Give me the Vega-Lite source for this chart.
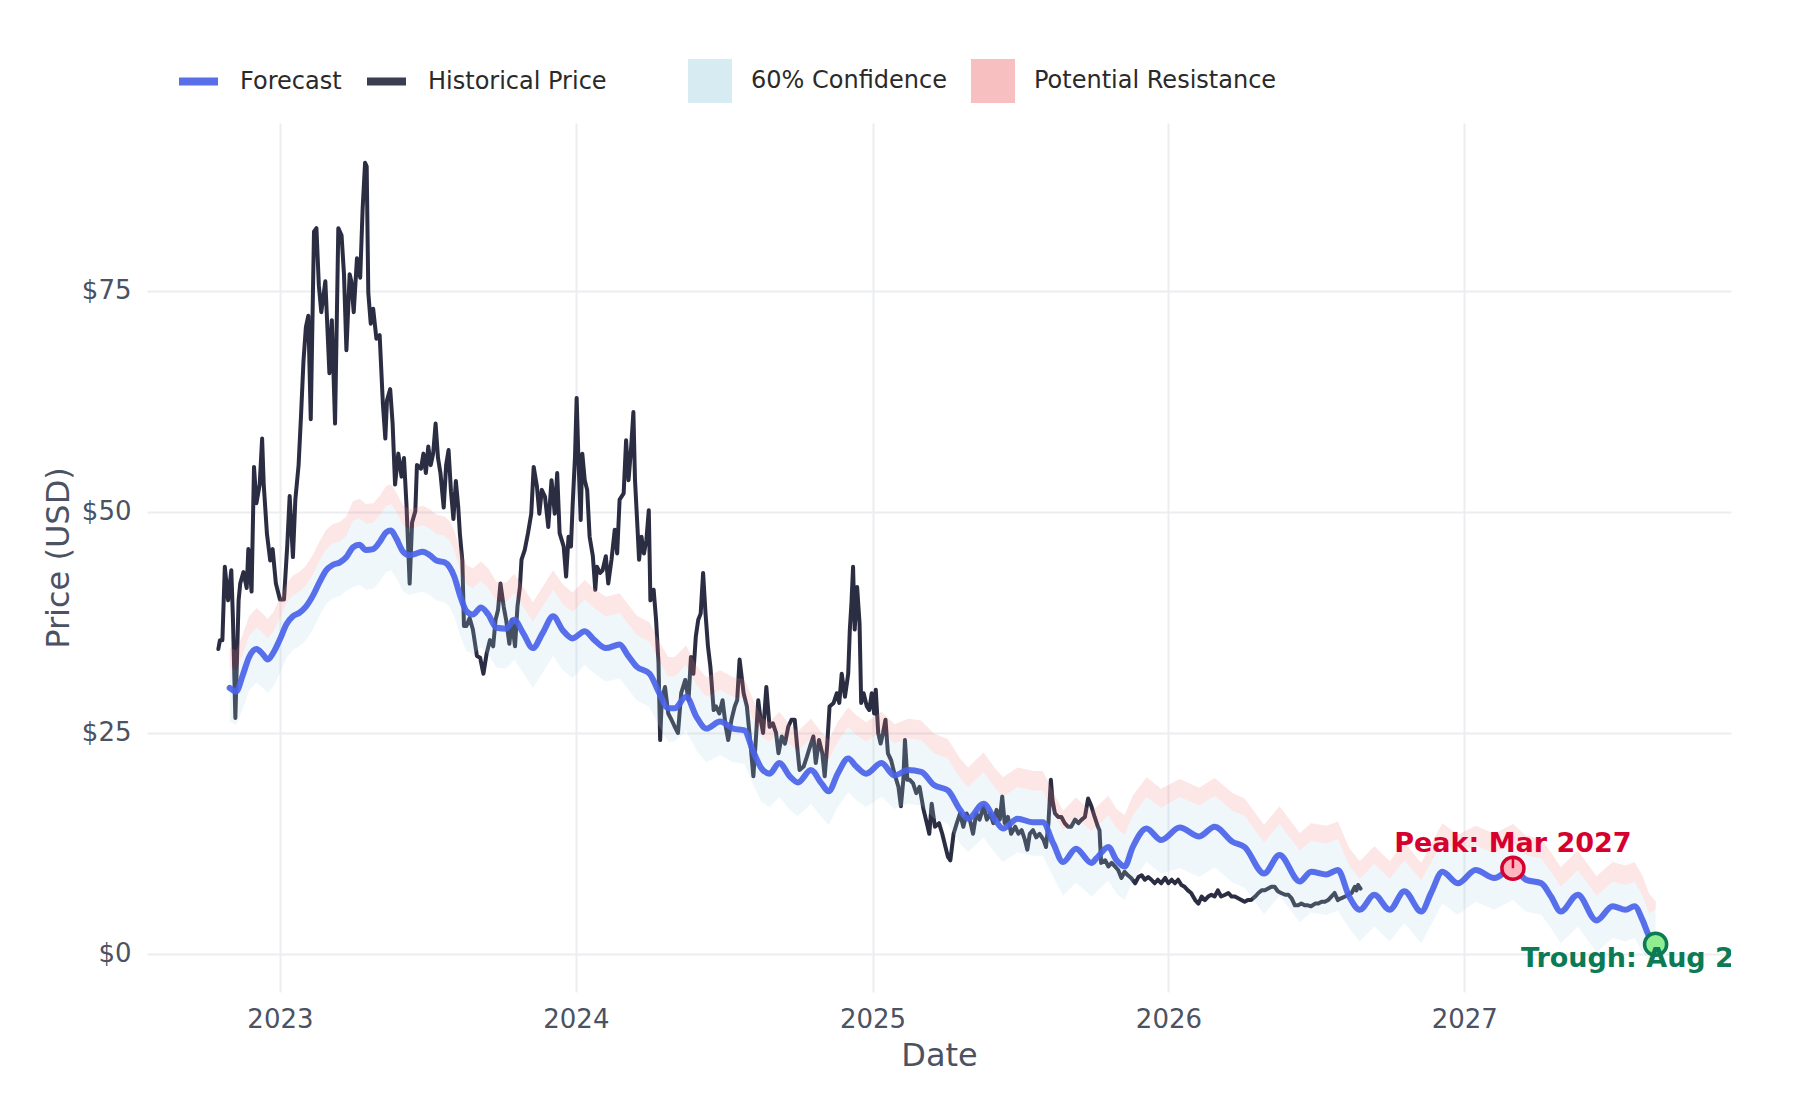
{
  "$schema": "https://vega.github.io/schema/vega-lite/v6.json",
  "width": 1584,
  "height": 869,
  "autosize": {"type": "none"},
  "padding": {"left": 147, "top": 123, "right": 69, "bottom": 108},
  "background": "white",
  "config": {
    "view": {"stroke": null},
    "font": "DejaVu Sans",
    "axis": {
      "labelFont": "DejaVu Sans", "titleFont": "DejaVu Sans",
      "labelFontSize": 26, "titleFontSize": 32, "titleFontWeight": "normal",
      "labelColor": "#4a5263", "titleColor": "#4a5263",
      "gridColor": "#ebedf0", "gridWidth": 2,
      "domain": false, "ticks": false, "tickSize": 0
    },
    "axisX": {"labelPadding": 14, "titleY": 73, "titleBaseline": "alphabetic"},
    "axisY": {"labelPadding": 16, "titleX": -79, "titleY": 434.5, "titleBaseline": "alphabetic", "titleAngle": -90, "titleAlign": "center"}
  },
  "datasets": {
    "hist": [
      {"date": "2022-10-17", "price": 34.5}, {"date": "2022-10-19", "price": 35.5}, {"date": "2022-10-22", "price": 35.5},
      {"date": "2022-10-25", "price": 43.8}, {"date": "2022-10-29", "price": 40.0}, {"date": "2022-11-02", "price": 43.4},
      {"date": "2022-11-04", "price": 38.0}, {"date": "2022-11-07", "price": 26.7}, {"date": "2022-11-11", "price": 40.0},
      {"date": "2022-11-13", "price": 41.9}, {"date": "2022-11-17", "price": 43.2}, {"date": "2022-11-21", "price": 41.4},
      {"date": "2022-11-23", "price": 45.8}, {"date": "2022-11-27", "price": 41.0}, {"date": "2022-11-30", "price": 55.1},
      {"date": "2022-12-03", "price": 51.0}, {"date": "2022-12-07", "price": 53.1}, {"date": "2022-12-10", "price": 58.3},
      {"date": "2022-12-12", "price": 53.1}, {"date": "2022-12-16", "price": 47.5}, {"date": "2022-12-20", "price": 44.5},
      {"date": "2022-12-23", "price": 45.8}, {"date": "2022-12-27", "price": 41.9}, {"date": "2023-01-01", "price": 40.1},
      {"date": "2023-01-06", "price": 40.1}, {"date": "2023-01-10", "price": 46.2}, {"date": "2023-01-13", "price": 51.8},
      {"date": "2023-01-17", "price": 44.9}, {"date": "2023-01-20", "price": 51.4}, {"date": "2023-01-24", "price": 55.3},
      {"date": "2023-01-27", "price": 60.9}, {"date": "2023-01-30", "price": 67.0}, {"date": "2023-02-02", "price": 70.9},
      {"date": "2023-02-05", "price": 72.2}, {"date": "2023-02-08", "price": 60.5}, {"date": "2023-02-12", "price": 81.7},
      {"date": "2023-02-15", "price": 82.1}, {"date": "2023-02-18", "price": 75.6}, {"date": "2023-02-21", "price": 72.6},
      {"date": "2023-02-26", "price": 76.1}, {"date": "2023-03-03", "price": 65.7}, {"date": "2023-03-06", "price": 71.7},
      {"date": "2023-03-10", "price": 60.0}, {"date": "2023-03-14", "price": 82.1}, {"date": "2023-03-18", "price": 81.3},
      {"date": "2023-03-21", "price": 76.9}, {"date": "2023-03-24", "price": 68.3}, {"date": "2023-03-28", "price": 76.9},
      {"date": "2023-03-30", "price": 76.1}, {"date": "2023-04-02", "price": 72.6}, {"date": "2023-04-06", "price": 78.7},
      {"date": "2023-04-10", "price": 76.5}, {"date": "2023-04-13", "price": 84.3}, {"date": "2023-04-16", "price": 89.5},
      {"date": "2023-04-18", "price": 89.1}, {"date": "2023-04-20", "price": 74.8}, {"date": "2023-04-23", "price": 71.3},
      {"date": "2023-04-26", "price": 73.0}, {"date": "2023-04-30", "price": 69.6}, {"date": "2023-05-04", "price": 70.0},
      {"date": "2023-05-08", "price": 62.2}, {"date": "2023-05-11", "price": 58.3}, {"date": "2023-05-13", "price": 62.6},
      {"date": "2023-05-17", "price": 63.9}, {"date": "2023-05-20", "price": 60.0}, {"date": "2023-05-23", "price": 53.1},
      {"date": "2023-05-27", "price": 56.6}, {"date": "2023-05-31", "price": 54.0}, {"date": "2023-06-03", "price": 56.1},
      {"date": "2023-06-06", "price": 51.0}, {"date": "2023-06-10", "price": 41.9}, {"date": "2023-06-13", "price": 48.8},
      {"date": "2023-06-17", "price": 50.1}, {"date": "2023-06-19", "price": 55.3}, {"date": "2023-06-24", "price": 54.9},
      {"date": "2023-06-27", "price": 56.6}, {"date": "2023-06-30", "price": 54.4}, {"date": "2023-07-03", "price": 57.4},
      {"date": "2023-07-06", "price": 55.3}, {"date": "2023-07-09", "price": 56.6}, {"date": "2023-07-12", "price": 60.0},
      {"date": "2023-07-15", "price": 56.1}, {"date": "2023-07-18", "price": 54.4}, {"date": "2023-07-22", "price": 50.5},
      {"date": "2023-07-25", "price": 55.3}, {"date": "2023-07-28", "price": 57.0}, {"date": "2023-07-31", "price": 52.3},
      {"date": "2023-08-03", "price": 49.2}, {"date": "2023-08-06", "price": 53.5}, {"date": "2023-08-09", "price": 50.5},
      {"date": "2023-08-11", "price": 47.5}, {"date": "2023-08-14", "price": 44.5}, {"date": "2023-08-16", "price": 37.1},
      {"date": "2023-08-19", "price": 37.1}, {"date": "2023-08-23", "price": 38.0}, {"date": "2023-08-27", "price": 36.7},
      {"date": "2023-09-01", "price": 33.7}, {"date": "2023-09-05", "price": 33.5}, {"date": "2023-09-09", "price": 31.7},
      {"date": "2023-09-13", "price": 34.0}, {"date": "2023-09-17", "price": 35.5}, {"date": "2023-09-21", "price": 34.8},
      {"date": "2023-09-24", "price": 37.8}, {"date": "2023-09-27", "price": 38.9}, {"date": "2023-09-30", "price": 41.9},
      {"date": "2023-10-04", "price": 39.3}, {"date": "2023-10-07", "price": 37.8}, {"date": "2023-10-11", "price": 35.1},
      {"date": "2023-10-14", "price": 37.8}, {"date": "2023-10-18", "price": 34.8}, {"date": "2023-10-21", "price": 39.3},
      {"date": "2023-10-24", "price": 41.5}, {"date": "2023-10-26", "price": 44.6}, {"date": "2023-10-30", "price": 45.7},
      {"date": "2023-11-03", "price": 47.6}, {"date": "2023-11-07", "price": 49.8}, {"date": "2023-11-10", "price": 55.1},
      {"date": "2023-11-14", "price": 52.9}, {"date": "2023-11-17", "price": 49.8}, {"date": "2023-11-20", "price": 52.5},
      {"date": "2023-11-24", "price": 51.7}, {"date": "2023-11-28", "price": 48.3}, {"date": "2023-12-02", "price": 53.6},
      {"date": "2023-12-06", "price": 49.8}, {"date": "2023-12-09", "price": 54.4}, {"date": "2023-12-12", "price": 47.6},
      {"date": "2023-12-17", "price": 46.1}, {"date": "2023-12-20", "price": 42.7}, {"date": "2023-12-23", "price": 47.2},
      {"date": "2023-12-26", "price": 46.1}, {"date": "2023-12-28", "price": 50.6}, {"date": "2023-12-31", "price": 56.3},
      {"date": "2024-01-02", "price": 62.9}, {"date": "2024-01-04", "price": 56.6}, {"date": "2024-01-07", "price": 49.1},
      {"date": "2024-01-09", "price": 56.6}, {"date": "2024-01-12", "price": 53.6}, {"date": "2024-01-15", "price": 52.5},
      {"date": "2024-01-18", "price": 47.2}, {"date": "2024-01-22", "price": 45.0}, {"date": "2024-01-25", "price": 41.2},
      {"date": "2024-01-27", "price": 43.8}, {"date": "2024-01-31", "price": 43.1}, {"date": "2024-02-03", "price": 43.4},
      {"date": "2024-02-07", "price": 45.0}, {"date": "2024-02-10", "price": 41.9}, {"date": "2024-02-14", "price": 44.6},
      {"date": "2024-02-18", "price": 48.0}, {"date": "2024-02-21", "price": 45.3}, {"date": "2024-02-24", "price": 51.4},
      {"date": "2024-02-29", "price": 52.1}, {"date": "2024-03-03", "price": 58.1}, {"date": "2024-03-06", "price": 53.6},
      {"date": "2024-03-09", "price": 57.0}, {"date": "2024-03-12", "price": 61.3}, {"date": "2024-03-14", "price": 53.6},
      {"date": "2024-03-17", "price": 48.3}, {"date": "2024-03-19", "price": 44.6}, {"date": "2024-03-22", "price": 47.2},
      {"date": "2024-03-25", "price": 45.3}, {"date": "2024-03-28", "price": 46.8}, {"date": "2024-03-31", "price": 50.2},
      {"date": "2024-04-02", "price": 40.0}, {"date": "2024-04-06", "price": 41.2}, {"date": "2024-04-09", "price": 37.8},
      {"date": "2024-04-12", "price": 32.9}, {"date": "2024-04-14", "price": 24.2}, {"date": "2024-04-16", "price": 28.7},
      {"date": "2024-04-20", "price": 30.2}, {"date": "2024-04-24", "price": 27.2}, {"date": "2024-04-28", "price": 26.5},
      {"date": "2024-05-02", "price": 25.7}, {"date": "2024-05-06", "price": 25.0}, {"date": "2024-05-10", "price": 29.5},
      {"date": "2024-05-15", "price": 31.0}, {"date": "2024-05-19", "price": 28.7}, {"date": "2024-05-22", "price": 33.6},
      {"date": "2024-05-25", "price": 31.7}, {"date": "2024-05-28", "price": 35.9}, {"date": "2024-05-31", "price": 37.8},
      {"date": "2024-06-03", "price": 38.5}, {"date": "2024-06-06", "price": 43.1}, {"date": "2024-06-09", "price": 38.5},
      {"date": "2024-06-12", "price": 34.8}, {"date": "2024-06-15", "price": 32.5}, {"date": "2024-06-19", "price": 27.6},
      {"date": "2024-06-22", "price": 28.0}, {"date": "2024-06-26", "price": 27.2}, {"date": "2024-06-30", "price": 28.7},
      {"date": "2024-07-04", "price": 25.7}, {"date": "2024-07-07", "price": 24.2}, {"date": "2024-07-11", "price": 26.5},
      {"date": "2024-07-15", "price": 28.0}, {"date": "2024-07-18", "price": 28.7}, {"date": "2024-07-21", "price": 33.3},
      {"date": "2024-07-26", "price": 29.5}, {"date": "2024-07-30", "price": 28.0}, {"date": "2024-08-03", "price": 24.2},
      {"date": "2024-08-07", "price": 20.1}, {"date": "2024-08-10", "price": 24.2}, {"date": "2024-08-13", "price": 28.7},
      {"date": "2024-08-16", "price": 26.5}, {"date": "2024-08-19", "price": 25.0}, {"date": "2024-08-23", "price": 30.2},
      {"date": "2024-08-27", "price": 25.7}, {"date": "2024-08-31", "price": 26.1}, {"date": "2024-09-04", "price": 25.0},
      {"date": "2024-09-07", "price": 22.7}, {"date": "2024-09-11", "price": 24.6}, {"date": "2024-09-15", "price": 23.8},
      {"date": "2024-09-19", "price": 25.7}, {"date": "2024-09-23", "price": 26.5}, {"date": "2024-09-27", "price": 26.5},
      {"date": "2024-09-30", "price": 23.5}, {"date": "2024-10-03", "price": 20.8}, {"date": "2024-10-08", "price": 21.2},
      {"date": "2024-10-12", "price": 22.3}, {"date": "2024-10-16", "price": 23.5}, {"date": "2024-10-20", "price": 24.6},
      {"date": "2024-10-23", "price": 21.6}, {"date": "2024-10-27", "price": 24.2}, {"date": "2024-10-31", "price": 22.7},
      {"date": "2024-11-03", "price": 20.1}, {"date": "2024-11-06", "price": 23.5}, {"date": "2024-11-09", "price": 28.0},
      {"date": "2024-11-14", "price": 28.4}, {"date": "2024-11-18", "price": 29.5}, {"date": "2024-11-21", "price": 28.4},
      {"date": "2024-11-24", "price": 31.7}, {"date": "2024-11-28", "price": 29.1}, {"date": "2024-12-02", "price": 31.7},
      {"date": "2024-12-04", "price": 36.7}, {"date": "2024-12-06", "price": 39.7}, {"date": "2024-12-08", "price": 43.8},
      {"date": "2024-12-10", "price": 36.7}, {"date": "2024-12-13", "price": 41.5}, {"date": "2024-12-16", "price": 37.4},
      {"date": "2024-12-18", "price": 28.4}, {"date": "2024-12-21", "price": 29.5}, {"date": "2024-12-25", "price": 28.0},
      {"date": "2024-12-28", "price": 27.6}, {"date": "2024-12-31", "price": 29.5}, {"date": "2025-01-03", "price": 27.2},
      {"date": "2025-01-05", "price": 29.9}, {"date": "2025-01-08", "price": 25.0}, {"date": "2025-01-11", "price": 23.8},
      {"date": "2025-01-14", "price": 25.0}, {"date": "2025-01-17", "price": 26.5}, {"date": "2025-01-20", "price": 22.7},
      {"date": "2025-01-24", "price": 21.9}, {"date": "2025-01-28", "price": 20.4}, {"date": "2025-02-02", "price": 18.9},
      {"date": "2025-02-05", "price": 16.7}, {"date": "2025-02-08", "price": 19.7}, {"date": "2025-02-10", "price": 24.2},
      {"date": "2025-02-13", "price": 19.7}, {"date": "2025-02-16", "price": 19.7}, {"date": "2025-02-20", "price": 19.3},
      {"date": "2025-02-24", "price": 18.2}, {"date": "2025-02-28", "price": 18.9}, {"date": "2025-03-05", "price": 16.3},
      {"date": "2025-03-09", "price": 14.8}, {"date": "2025-03-12", "price": 13.6}, {"date": "2025-03-15", "price": 17.0},
      {"date": "2025-03-19", "price": 14.4}, {"date": "2025-03-24", "price": 14.8}, {"date": "2025-03-28", "price": 13.6},
      {"date": "2025-04-01", "price": 12.1}, {"date": "2025-04-04", "price": 11.0}, {"date": "2025-04-07", "price": 10.6},
      {"date": "2025-04-11", "price": 13.6}, {"date": "2025-04-15", "price": 14.8}, {"date": "2025-04-19", "price": 15.9},
      {"date": "2025-04-23", "price": 14.4}, {"date": "2025-04-27", "price": 15.9}, {"date": "2025-05-01", "price": 15.2},
      {"date": "2025-05-05", "price": 13.6}, {"date": "2025-05-09", "price": 15.9}, {"date": "2025-05-13", "price": 15.2},
      {"date": "2025-05-18", "price": 16.7}, {"date": "2025-05-22", "price": 15.2}, {"date": "2025-05-26", "price": 15.9},
      {"date": "2025-05-30", "price": 14.8}, {"date": "2025-06-03", "price": 16.3}, {"date": "2025-06-07", "price": 15.2},
      {"date": "2025-06-10", "price": 17.8}, {"date": "2025-06-13", "price": 14.8}, {"date": "2025-06-17", "price": 15.5},
      {"date": "2025-06-21", "price": 13.6}, {"date": "2025-06-26", "price": 14.4}, {"date": "2025-06-30", "price": 13.6},
      {"date": "2025-07-04", "price": 14.0}, {"date": "2025-07-08", "price": 12.9}, {"date": "2025-07-11", "price": 11.8},
      {"date": "2025-07-14", "price": 13.6}, {"date": "2025-07-18", "price": 14.0}, {"date": "2025-07-22", "price": 13.2},
      {"date": "2025-07-26", "price": 13.6}, {"date": "2025-07-31", "price": 12.9}, {"date": "2025-08-03", "price": 12.1},
      {"date": "2025-08-06", "price": 14.8}, {"date": "2025-08-09", "price": 19.7}, {"date": "2025-08-11", "price": 17.4},
      {"date": "2025-08-14", "price": 15.9}, {"date": "2025-08-18", "price": 15.5}, {"date": "2025-08-22", "price": 15.5},
      {"date": "2025-08-26", "price": 14.8}, {"date": "2025-08-30", "price": 14.4}, {"date": "2025-09-03", "price": 14.4},
      {"date": "2025-09-08", "price": 15.2}, {"date": "2025-09-12", "price": 14.8}, {"date": "2025-09-16", "price": 15.2},
      {"date": "2025-09-20", "price": 15.5}, {"date": "2025-09-24", "price": 17.6}, {"date": "2025-09-28", "price": 16.7},
      {"date": "2025-10-02", "price": 15.5}, {"date": "2025-10-06", "price": 14.4}, {"date": "2025-10-08", "price": 14.0},
      {"date": "2025-10-10", "price": 10.3}, {"date": "2025-10-15", "price": 10.6}, {"date": "2025-10-19", "price": 9.9},
      {"date": "2025-10-23", "price": 10.3}, {"date": "2025-10-27", "price": 9.9}, {"date": "2025-10-31", "price": 9.5},
      {"date": "2025-11-04", "price": 8.6}, {"date": "2025-11-08", "price": 9.3}, {"date": "2025-11-12", "price": 8.9},
      {"date": "2025-11-16", "price": 8.6}, {"date": "2025-11-21", "price": 8.0}, {"date": "2025-11-25", "price": 8.7},
      {"date": "2025-11-29", "price": 8.9}, {"date": "2025-12-03", "price": 8.4}, {"date": "2025-12-07", "price": 8.7},
      {"date": "2025-12-11", "price": 8.4}, {"date": "2025-12-15", "price": 8.0}, {"date": "2025-12-19", "price": 8.4},
      {"date": "2025-12-23", "price": 8.0}, {"date": "2025-12-28", "price": 8.6}, {"date": "2026-01-01", "price": 8.0},
      {"date": "2026-01-05", "price": 8.4}, {"date": "2026-01-09", "price": 8.0}, {"date": "2026-01-13", "price": 8.4},
      {"date": "2026-01-17", "price": 7.8}, {"date": "2026-01-21", "price": 7.6}, {"date": "2026-01-25", "price": 7.2},
      {"date": "2026-01-29", "price": 6.9}, {"date": "2026-02-03", "price": 6.1}, {"date": "2026-02-07", "price": 5.7},
      {"date": "2026-02-11", "price": 6.5}, {"date": "2026-02-15", "price": 6.1}, {"date": "2026-02-19", "price": 6.5},
      {"date": "2026-02-23", "price": 6.7}, {"date": "2026-02-27", "price": 6.5}, {"date": "2026-03-03", "price": 7.2},
      {"date": "2026-03-07", "price": 6.5}, {"date": "2026-03-12", "price": 6.7}, {"date": "2026-03-16", "price": 6.9},
      {"date": "2026-03-20", "price": 6.5}, {"date": "2026-03-24", "price": 6.5}, {"date": "2026-03-28", "price": 6.3},
      {"date": "2026-04-01", "price": 6.1}, {"date": "2026-04-05", "price": 5.9}, {"date": "2026-04-09", "price": 6.1},
      {"date": "2026-04-13", "price": 6.1}, {"date": "2026-04-18", "price": 6.5}, {"date": "2026-04-22", "price": 6.9},
      {"date": "2026-04-26", "price": 7.2}, {"date": "2026-04-30", "price": 7.2}, {"date": "2026-05-04", "price": 7.4},
      {"date": "2026-05-08", "price": 7.6}, {"date": "2026-05-12", "price": 7.6}, {"date": "2026-05-16", "price": 7.1},
      {"date": "2026-05-20", "price": 6.9}, {"date": "2026-05-25", "price": 6.7}, {"date": "2026-05-29", "price": 6.7},
      {"date": "2026-06-02", "price": 6.3}, {"date": "2026-06-06", "price": 5.5}, {"date": "2026-06-10", "price": 5.5},
      {"date": "2026-06-14", "price": 5.7}, {"date": "2026-06-18", "price": 5.5}, {"date": "2026-06-22", "price": 5.5},
      {"date": "2026-06-26", "price": 5.4}, {"date": "2026-07-01", "price": 5.7}, {"date": "2026-07-05", "price": 5.7},
      {"date": "2026-07-09", "price": 5.9}, {"date": "2026-07-13", "price": 5.9}, {"date": "2026-07-17", "price": 6.1},
      {"date": "2026-07-21", "price": 6.5}, {"date": "2026-07-25", "price": 6.9}, {"date": "2026-07-29", "price": 6.1},
      {"date": "2026-08-02", "price": 6.3}, {"date": "2026-08-07", "price": 6.5}, {"date": "2026-08-11", "price": 6.7},
      {"date": "2026-08-15", "price": 6.9}, {"date": "2026-08-19", "price": 7.6}, {"date": "2026-08-21", "price": 7.2},
      {"date": "2026-08-23", "price": 7.8}, {"date": "2026-08-26", "price": 7.4}
    ],
    "forecast": [
      {"date": "2022-10-31", "price": 30.1, "lo": 26.3, "hi": 32.5, "res": 34.7},
      {"date": "2022-11-08", "price": 29.7, "lo": 25.9, "hi": 32.1, "res": 34.3},
      {"date": "2022-11-16", "price": 31.5, "lo": 27.7, "hi": 33.9, "res": 36.1},
      {"date": "2022-11-24", "price": 33.6, "lo": 29.8, "hi": 36.0, "res": 38.2},
      {"date": "2022-12-03", "price": 34.5, "lo": 30.7, "hi": 36.9, "res": 39.1},
      {"date": "2022-12-11", "price": 33.9, "lo": 30.1, "hi": 36.3, "res": 38.5},
      {"date": "2022-12-17", "price": 33.3, "lo": 29.5, "hi": 35.7, "res": 37.9},
      {"date": "2022-12-24", "price": 34.1, "lo": 30.3, "hi": 36.5, "res": 38.7},
      {"date": "2023-01-01", "price": 35.6, "lo": 31.8, "hi": 38.0, "res": 40.2},
      {"date": "2023-01-09", "price": 37.3, "lo": 33.5, "hi": 39.7, "res": 41.9},
      {"date": "2023-01-17", "price": 38.2, "lo": 34.4, "hi": 40.6, "res": 42.8},
      {"date": "2023-01-25", "price": 38.6, "lo": 34.8, "hi": 41.0, "res": 43.2},
      {"date": "2023-02-02", "price": 39.3, "lo": 35.5, "hi": 41.7, "res": 43.9},
      {"date": "2023-02-11", "price": 40.6, "lo": 36.8, "hi": 43.0, "res": 45.2},
      {"date": "2023-02-19", "price": 42.1, "lo": 38.3, "hi": 44.5, "res": 46.7},
      {"date": "2023-02-27", "price": 43.4, "lo": 39.6, "hi": 45.8, "res": 48.0},
      {"date": "2023-03-07", "price": 44.0, "lo": 40.2, "hi": 46.4, "res": 48.6},
      {"date": "2023-03-16", "price": 44.3, "lo": 40.5, "hi": 46.7, "res": 48.9},
      {"date": "2023-03-24", "price": 44.9, "lo": 41.1, "hi": 47.3, "res": 49.5},
      {"date": "2023-04-01", "price": 46.0, "lo": 41.5, "hi": 49.0, "res": 51.2},
      {"date": "2023-04-09", "price": 46.3, "lo": 41.8, "hi": 49.3, "res": 51.5},
      {"date": "2023-04-17", "price": 45.7, "lo": 41.2, "hi": 48.7, "res": 50.9},
      {"date": "2023-04-26", "price": 45.8, "lo": 41.3, "hi": 48.8, "res": 51.0},
      {"date": "2023-05-04", "price": 46.6, "lo": 42.1, "hi": 49.6, "res": 51.8},
      {"date": "2023-05-12", "price": 47.7, "lo": 43.2, "hi": 50.7, "res": 52.9},
      {"date": "2023-05-18", "price": 47.9, "lo": 43.4, "hi": 50.9, "res": 53.1},
      {"date": "2023-05-24", "price": 47.1, "lo": 42.6, "hi": 50.1, "res": 52.3},
      {"date": "2023-06-02", "price": 45.5, "lo": 41.0, "hi": 48.5, "res": 50.7},
      {"date": "2023-06-10", "price": 45.1, "lo": 40.6, "hi": 48.1, "res": 50.3},
      {"date": "2023-06-18", "price": 45.3, "lo": 40.8, "hi": 48.3, "res": 50.5},
      {"date": "2023-06-26", "price": 45.5, "lo": 41.0, "hi": 48.5, "res": 50.7},
      {"date": "2023-07-05", "price": 45.1, "lo": 40.6, "hi": 48.1, "res": 50.3},
      {"date": "2023-07-13", "price": 44.5, "lo": 40.0, "hi": 47.5, "res": 49.7},
      {"date": "2023-07-23", "price": 44.3, "lo": 39.8, "hi": 47.3, "res": 49.5},
      {"date": "2023-07-29", "price": 43.8, "lo": 39.3, "hi": 46.8, "res": 49.0},
      {"date": "2023-08-04", "price": 42.7, "lo": 38.2, "hi": 45.7, "res": 47.9},
      {"date": "2023-08-11", "price": 40.6, "lo": 36.1, "hi": 43.6, "res": 45.8},
      {"date": "2023-08-19", "price": 38.8, "lo": 34.3, "hi": 41.8, "res": 44.0},
      {"date": "2023-08-27", "price": 38.4, "lo": 33.9, "hi": 41.4, "res": 43.6},
      {"date": "2023-09-06", "price": 39.2, "lo": 34.7, "hi": 42.2, "res": 44.4},
      {"date": "2023-09-15", "price": 38.4, "lo": 33.9, "hi": 41.4, "res": 43.6},
      {"date": "2023-09-25", "price": 36.9, "lo": 32.4, "hi": 39.9, "res": 42.1},
      {"date": "2023-10-07", "price": 36.8, "lo": 32.3, "hi": 39.8, "res": 42.0},
      {"date": "2023-10-17", "price": 37.8, "lo": 33.3, "hi": 40.8, "res": 43.0},
      {"date": "2023-10-28", "price": 36.3, "lo": 31.8, "hi": 39.3, "res": 41.5},
      {"date": "2023-11-09", "price": 34.6, "lo": 30.1, "hi": 37.6, "res": 39.8},
      {"date": "2023-11-21", "price": 36.3, "lo": 31.8, "hi": 39.3, "res": 41.5},
      {"date": "2023-12-04", "price": 38.2, "lo": 33.7, "hi": 41.2, "res": 43.4},
      {"date": "2023-12-16", "price": 36.6, "lo": 32.1, "hi": 39.6, "res": 41.8},
      {"date": "2023-12-28", "price": 35.7, "lo": 31.2, "hi": 38.7, "res": 40.9},
      {"date": "2024-01-12", "price": 36.5, "lo": 32.7, "hi": 40.1, "res": 42.3},
      {"date": "2024-01-24", "price": 35.5, "lo": 31.7, "hi": 39.1, "res": 41.3},
      {"date": "2024-02-07", "price": 34.6, "lo": 30.8, "hi": 38.2, "res": 40.4},
      {"date": "2024-02-24", "price": 35.0, "lo": 31.2, "hi": 38.6, "res": 40.8},
      {"date": "2024-03-05", "price": 33.8, "lo": 30.0, "hi": 37.4, "res": 39.6},
      {"date": "2024-03-16", "price": 32.5, "lo": 28.7, "hi": 36.1, "res": 38.3},
      {"date": "2024-04-01", "price": 31.7, "lo": 27.9, "hi": 35.3, "res": 37.5},
      {"date": "2024-04-13", "price": 29.5, "lo": 25.7, "hi": 33.1, "res": 35.3},
      {"date": "2024-04-24", "price": 27.8, "lo": 24.0, "hi": 31.4, "res": 33.6},
      {"date": "2024-05-02", "price": 27.8, "lo": 24.0, "hi": 31.4, "res": 33.6},
      {"date": "2024-05-16", "price": 29.1, "lo": 25.3, "hi": 32.7, "res": 34.9},
      {"date": "2024-05-29", "price": 26.8, "lo": 23.0, "hi": 30.4, "res": 32.6},
      {"date": "2024-06-10", "price": 25.5, "lo": 21.7, "hi": 29.1, "res": 31.3},
      {"date": "2024-06-27", "price": 26.3, "lo": 22.5, "hi": 29.9, "res": 32.1},
      {"date": "2024-07-13", "price": 25.5, "lo": 21.7, "hi": 29.1, "res": 31.3},
      {"date": "2024-07-27", "price": 25.3, "lo": 21.5, "hi": 28.9, "res": 31.1},
      {"date": "2024-08-06", "price": 23.1, "lo": 19.3, "hi": 26.7, "res": 28.9},
      {"date": "2024-08-17", "price": 21.0, "lo": 17.2, "hi": 24.6, "res": 26.8},
      {"date": "2024-08-27", "price": 20.4, "lo": 16.6, "hi": 24.0, "res": 26.2},
      {"date": "2024-09-08", "price": 21.6, "lo": 17.8, "hi": 25.2, "res": 27.4},
      {"date": "2024-09-21", "price": 20.1, "lo": 16.3, "hi": 23.7, "res": 25.9},
      {"date": "2024-10-01", "price": 19.4, "lo": 15.6, "hi": 23.0, "res": 25.2},
      {"date": "2024-10-17", "price": 20.8, "lo": 17.0, "hi": 24.4, "res": 26.6},
      {"date": "2024-10-30", "price": 19.3, "lo": 15.5, "hi": 22.9, "res": 25.1},
      {"date": "2024-11-08", "price": 18.4, "lo": 14.6, "hi": 22.0, "res": 24.2},
      {"date": "2024-11-19", "price": 20.4, "lo": 16.6, "hi": 24.0, "res": 26.2},
      {"date": "2024-12-02", "price": 22.1, "lo": 18.3, "hi": 25.7, "res": 27.9},
      {"date": "2024-12-12", "price": 21.2, "lo": 17.4, "hi": 24.8, "res": 27.0},
      {"date": "2024-12-24", "price": 20.4, "lo": 16.6, "hi": 24.0, "res": 26.2},
      {"date": "2025-01-12", "price": 21.6, "lo": 17.8, "hi": 25.2, "res": 27.4},
      {"date": "2025-01-28", "price": 20.2, "lo": 16.4, "hi": 23.8, "res": 26.0},
      {"date": "2025-02-14", "price": 20.8, "lo": 17.0, "hi": 24.4, "res": 26.6},
      {"date": "2025-03-02", "price": 20.6, "lo": 16.8, "hi": 24.2, "res": 26.4},
      {"date": "2025-03-18", "price": 19.1, "lo": 15.3, "hi": 22.7, "res": 24.9},
      {"date": "2025-04-04", "price": 18.5, "lo": 14.7, "hi": 22.1, "res": 24.3},
      {"date": "2025-04-19", "price": 16.3, "lo": 12.5, "hi": 19.9, "res": 22.1},
      {"date": "2025-04-29", "price": 15.3, "lo": 11.5, "hi": 18.9, "res": 21.1},
      {"date": "2025-05-18", "price": 17.0, "lo": 13.2, "hi": 20.6, "res": 22.8},
      {"date": "2025-06-01", "price": 15.2, "lo": 11.4, "hi": 18.8, "res": 21.0},
      {"date": "2025-06-11", "price": 14.2, "lo": 10.4, "hi": 17.8, "res": 20.0},
      {"date": "2025-06-29", "price": 15.3, "lo": 11.5, "hi": 18.9, "res": 21.1},
      {"date": "2025-07-18", "price": 14.9, "lo": 11.1, "hi": 18.5, "res": 20.7},
      {"date": "2025-07-30", "price": 14.9, "lo": 11.1, "hi": 18.5, "res": 20.7},
      {"date": "2025-08-12", "price": 12.5, "lo": 8.7, "hi": 16.1, "res": 18.3},
      {"date": "2025-08-24", "price": 10.4, "lo": 6.6, "hi": 14.0, "res": 16.2},
      {"date": "2025-09-09", "price": 11.9, "lo": 8.1, "hi": 15.5, "res": 17.7},
      {"date": "2025-09-28", "price": 10.3, "lo": 6.5, "hi": 13.9, "res": 16.1},
      {"date": "2025-10-04", "price": 10.8, "lo": 7.0, "hi": 14.4, "res": 16.6},
      {"date": "2025-10-19", "price": 12.1, "lo": 8.3, "hi": 15.7, "res": 17.9},
      {"date": "2025-10-29", "price": 10.6, "lo": 6.8, "hi": 14.2, "res": 16.4},
      {"date": "2025-11-08", "price": 9.9, "lo": 6.1, "hi": 13.5, "res": 15.7},
      {"date": "2025-11-18", "price": 12.1, "lo": 8.3, "hi": 15.7, "res": 17.9},
      {"date": "2025-12-05", "price": 14.2, "lo": 10.4, "hi": 17.8, "res": 20.0},
      {"date": "2025-12-23", "price": 12.9, "lo": 9.1, "hi": 16.5, "res": 18.7},
      {"date": "2026-01-15", "price": 14.3, "lo": 9.7, "hi": 17.8, "res": 19.8},
      {"date": "2026-02-08", "price": 13.3, "lo": 8.7, "hi": 16.8, "res": 18.8},
      {"date": "2026-02-27", "price": 14.4, "lo": 9.8, "hi": 17.9, "res": 19.9},
      {"date": "2026-03-21", "price": 12.7, "lo": 8.1, "hi": 16.2, "res": 18.2},
      {"date": "2026-04-05", "price": 12.1, "lo": 7.5, "hi": 15.6, "res": 17.6},
      {"date": "2026-04-29", "price": 9.1, "lo": 4.5, "hi": 12.6, "res": 14.6},
      {"date": "2026-05-18", "price": 11.2, "lo": 6.6, "hi": 14.7, "res": 16.7},
      {"date": "2026-06-12", "price": 8.2, "lo": 3.6, "hi": 11.7, "res": 13.7},
      {"date": "2026-06-26", "price": 9.3, "lo": 4.7, "hi": 12.8, "res": 14.8},
      {"date": "2026-07-15", "price": 9.0, "lo": 4.4, "hi": 12.5, "res": 14.5},
      {"date": "2026-07-29", "price": 9.5, "lo": 4.9, "hi": 13.0, "res": 15.0},
      {"date": "2026-08-12", "price": 6.5, "lo": 2.9, "hi": 10.0, "res": 12.0},
      {"date": "2026-08-25", "price": 5.0, "lo": 1.4, "hi": 8.5, "res": 10.5},
      {"date": "2026-09-12", "price": 6.7, "lo": 3.1, "hi": 10.2, "res": 12.2},
      {"date": "2026-10-01", "price": 5.0, "lo": 1.4, "hi": 8.5, "res": 10.5},
      {"date": "2026-10-19", "price": 7.1, "lo": 3.5, "hi": 10.6, "res": 12.6},
      {"date": "2026-11-09", "price": 4.8, "lo": 1.2, "hi": 8.3, "res": 10.3},
      {"date": "2026-11-21", "price": 6.9, "lo": 3.3, "hi": 10.4, "res": 12.4},
      {"date": "2026-12-05", "price": 9.3, "lo": 5.7, "hi": 12.8, "res": 14.8},
      {"date": "2026-12-24", "price": 8.0, "lo": 4.4, "hi": 11.5, "res": 13.5},
      {"date": "2027-01-15", "price": 9.5, "lo": 5.9, "hi": 12.3, "res": 14.5},
      {"date": "2027-02-07", "price": 8.6, "lo": 5.0, "hi": 11.4, "res": 13.6},
      {"date": "2027-03-02", "price": 9.7, "lo": 6.1, "hi": 12.5, "res": 14.7},
      {"date": "2027-03-18", "price": 8.4, "lo": 4.8, "hi": 11.2, "res": 13.4},
      {"date": "2027-04-06", "price": 8.0, "lo": 4.4, "hi": 10.8, "res": 13.0},
      {"date": "2027-04-18", "price": 6.5, "lo": 2.9, "hi": 9.3, "res": 11.5},
      {"date": "2027-04-30", "price": 4.8, "lo": 1.2, "hi": 7.6, "res": 9.8},
      {"date": "2027-05-21", "price": 6.7, "lo": 3.1, "hi": 9.5, "res": 11.7},
      {"date": "2027-06-13", "price": 3.8, "lo": 0.2, "hi": 6.6, "res": 8.8},
      {"date": "2027-07-03", "price": 5.4, "lo": 1.8, "hi": 8.2, "res": 10.4},
      {"date": "2027-07-19", "price": 5.0, "lo": 1.4, "hi": 7.8, "res": 10.0},
      {"date": "2027-07-30", "price": 5.4, "lo": 1.8, "hi": 8.2, "res": 10.4},
      {"date": "2027-08-09", "price": 3.8, "lo": 0.2, "hi": 6.6, "res": 8.8},
      {"date": "2027-08-17", "price": 2.0, "lo": -0.6, "hi": 4.6, "res": 6.8},
      {"date": "2027-08-25", "price": 1.1, "lo": -0.5, "hi": 5.0, "res": 6.0}
    ],
    "extremes": [
      {"date": "2027-03-02", "price": 9.7, "kind": "Peak", "label": "Peak: Mar 2027"},
      {"date": "2027-08-25", "price": 1.1, "kind": "Trough", "label": "Trough: Aug 2027"}
    ]
  },
  "encoding": {
    "x": {
      "field": "date", "type": "temporal", "title": "Date",
      "scale": {"domain": [{"year": 2022, "month": 7, "date": 21}, {"year": 2027, "month": 11, "date": 26}]},
      "axis": {
        "values": [{"year": 2023, "month": 1, "date": 1}, {"year": 2024, "month": 1, "date": 1}, {"year": 2025, "month": 1, "date": 1}, {"year": 2026, "month": 1, "date": 1}, {"year": 2027, "month": 1, "date": 1}],
        "format": "%Y"
      }
    }
  },
  "layer": [
    {
      "data": {"name": "hist"},
      "mark": {"type": "line", "strokeWidth": 4, "strokeJoin": "round", "strokeCap": "round"},
      "encoding": {
        "y": {
          "field": "price", "type": "quantitative", "title": "Price (USD)",
          "scale": {"domain": [-4.3, 94], "nice": false, "zero": false},
          "axis": {"values": [0, 25, 50, 75], "format": "$.0f"}
        },
        "stroke": {
          "datum": "Historical Price", "type": "nominal",
          "scale": {"domain": ["Forecast", "Historical Price"], "range": ["#4a63e8", "#2b2d42"]},
          "legend": {
            "orient": "none", "legendX": 28, "legendY": -65, "direction": "horizontal", "title": null,
            "symbolType": "stroke", "symbolSize": 1521, "symbolStrokeWidth": 8, "symbolOpacity": 1,
            "labelFont": "DejaVu Sans", "labelFontSize": 24, "labelColor": "#2a2a2a", "labelLimit": 600,
            "labelOffset": 18, "columnPadding": 9, "gridAlign": "none", "padding": 0
          }
        }
      }
    },
    {
      "data": {"name": "forecast"},
      "mark": {"type": "area", "fillOpacity": 0.2},
      "encoding": {
        "y": {"field": "lo", "type": "quantitative", "title": "Price (USD)"},
        "y2": {"field": "hi"},
        "fill": {
          "datum": "60% Confidence", "type": "nominal",
          "scale": {"domain": ["60% Confidence", "Potential Resistance"], "range": ["#add8e6", "#f08080"]},
          "legend": {
            "orient": "none", "legendX": 541, "legendY": -64, "direction": "horizontal", "title": null,
            "symbolType": "square", "symbolSize": 1936, "symbolOpacity": 0.5, "symbolStrokeWidth": 0,
            "labelFont": "DejaVu Sans", "labelFontSize": 24, "labelColor": "#2a2a2a", "labelLimit": 600,
            "labelOffset": 19, "columnPadding": 24, "gridAlign": "none", "padding": 0
          }
        }
      }
    },
    {
      "data": {"name": "forecast"},
      "mark": {"type": "area", "fillOpacity": 0.2},
      "encoding": {
        "y": {"field": "hi", "type": "quantitative", "title": "Price (USD)"},
        "y2": {"field": "res"},
        "fill": {"datum": "Potential Resistance", "type": "nominal"}
      }
    },
    {
      "data": {"name": "forecast"},
      "mark": {"type": "line", "strokeWidth": 6, "interpolate": "monotone", "opacity": 0.92, "strokeCap": "round"},
      "encoding": {
        "y": {"field": "price", "type": "quantitative", "title": "Price (USD)"},
        "stroke": {"datum": "Forecast", "type": "nominal"}
      }
    },
    {
      "data": {"name": "extremes"},
      "transform": [{"filter": "datum.kind === 'Peak'"}],
      "mark": {"type": "point", "shape": "circle", "filled": true, "size": 490, "fill": "#ffb6c1", "stroke": "#d6002f", "strokeWidth": 3.5, "opacity": 1},
      "encoding": {"y": {"field": "price", "type": "quantitative", "title": "Price (USD)"}}
    },
    {
      "data": {"name": "extremes"},
      "transform": [{"filter": "datum.kind === 'Peak'"}],
      "mark": {"type": "rule", "color": "#d6002f", "strokeWidth": 2.5},
      "encoding": {
        "y": {"field": "price", "type": "quantitative", "title": "Price (USD)"},
        "y2": {"datum": 10.9}
      }
    },
    {
      "data": {"name": "extremes"},
      "transform": [{"filter": "datum.kind === 'Trough'"}],
      "mark": {"type": "point", "shape": "circle", "filled": true, "size": 490, "fill": "#90ee90", "stroke": "#0b7a55", "strokeWidth": 3.5, "opacity": 1},
      "encoding": {"y": {"field": "price", "type": "quantitative", "title": "Price (USD)"}}
    },
    {
      "data": {"name": "extremes"},
      "transform": [{"filter": "datum.kind === 'Peak'"}],
      "mark": {"type": "text", "font": "DejaVu Sans", "fontSize": 27, "fontWeight": "bold", "color": "#d6002f", "align": "center", "baseline": "alphabetic", "dy": -16},
      "encoding": {
        "y": {"field": "price", "type": "quantitative", "title": "Price (USD)"},
        "text": {"field": "label"}
      }
    },
    {
      "data": {"name": "extremes"},
      "transform": [{"filter": "datum.kind === 'Trough'"}],
      "mark": {"type": "text", "font": "DejaVu Sans", "fontSize": 27, "fontWeight": "bold", "color": "#0b7a55", "align": "center", "baseline": "alphabetic", "dy": 23, "clip": true},
      "encoding": {
        "y": {"field": "price", "type": "quantitative", "title": "Price (USD)"},
        "text": {"field": "label"}
      }
    }
  ]
}
